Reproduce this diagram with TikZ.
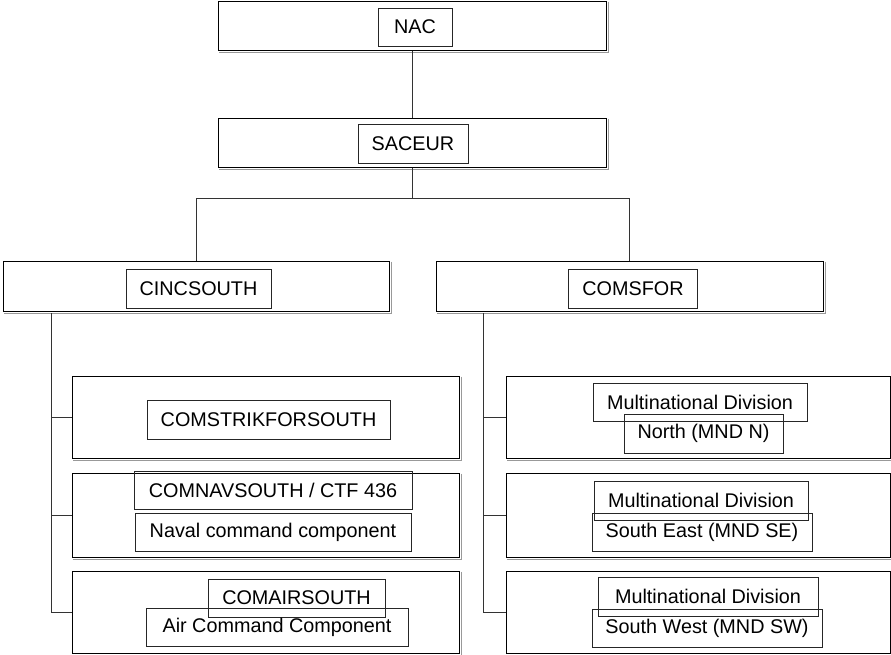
\documentclass[tikz,border=0pt]{standalone}
\usepackage{fontspec}
\setmainfont{Liberation Sans}
\begin{document}
\begin{tikzpicture}[x=1pt,y=-1pt,
  obox/.style={draw=black, line width=1pt, fill=white, rectangle, inner sep=0pt},
  shadeline/.style={draw=gray!80, line width=1.2pt},
  ibox/.style={draw=black!85, line width=0.9pt, rectangle, inner sep=0pt,
    minimum height=38pt, font=\fontsize{19.8}{22}\selectfont},
  conn/.style={draw=black!80, line width=0.9pt}]
\useasboundingbox (0,0) rectangle (891,654);
% outer boxes
\node[obox, minimum width=388pt, minimum height=49pt] (nac) at (412,25.5) {};
\node[obox, minimum width=388pt, minimum height=49pt] (saceur) at (412,142.5) {};
\node[obox, minimum width=386pt, minimum height=50pt] (cinc) at (196,286) {};
\node[obox, minimum width=387pt, minimum height=50pt] (comsfor) at (629.5,286) {};
\node[obox, minimum width=387pt, minimum height=82pt] (s1) at (265.5,417) {};
\node[obox, minimum width=387pt, minimum height=84pt] (s2) at (265.5,515) {};
\node[obox, minimum width=387pt, minimum height=82pt] (s3) at (265.5,612) {};
\node[obox, minimum width=384pt, minimum height=82pt] (r1) at (698,417) {};
\node[obox, minimum width=384pt, minimum height=84pt] (r2) at (698,515) {};
\node[obox, minimum width=384pt, minimum height=82pt] (r3) at (698,612) {};
% shadow lines on right and bottom edges
\foreach \n in {nac,saceur,cinc,comsfor,s1,s2,s3,r1,r2,r3}{
  \draw[shadeline] ([xshift=2pt,yshift=-1pt]\n.north east) -- ([xshift=2pt,yshift=-2pt]\n.south east)
    -- ([xshift=1pt,yshift=-2pt]\n.south west);
}
% inner text boxes
\node[ibox, minimum width=74pt] (nact) at (415,27) {NAC};
\node[ibox, minimum width=110pt, minimum height=39pt] (saceurt) at (413,143.5) {SACEUR};
\node[ibox, minimum width=145pt, minimum height=39pt] (cinct) at (198.5,288.5) {CINCSOUTH};
\node[ibox, minimum width=129pt, minimum height=39pt] (comsfort) at (633,288.5) {COMSFOR};
\node[ibox, minimum width=243pt, minimum height=39pt] (s1t) at (268.5,419.5) {COMSTRIKFORSOUTH};
\node[ibox, minimum width=278pt] (s2a) at (273,490) {COMNAVSOUTH / CTF 436};
\node[ibox, minimum width=276pt] (s2b) at (273,532) {Naval command component};
\node[ibox, minimum width=177pt] (s3a) at (296.5,598) {COMAIRSOUTH};
\node[ibox, minimum width=262pt] (s3b) at (277,627) {Air Command Component};
\node[ibox, minimum width=214pt] (r1a) at (700,402) {Multinational Division};
\node[ibox, minimum width=159pt, minimum height=39pt] (r1b) at (703.5,433.5) {North (MND N)};
\node[ibox, minimum width=214pt, minimum height=39pt] (r2a) at (701,500.5) {Multinational Division};
\node[ibox, minimum width=220pt] (r2b) at (702,532) {South East (MND SE)};
\node[ibox, minimum width=220pt, minimum height=39pt] (r3a) at (708,596.5) {Multinational Division};
\node[ibox, minimum width=230pt] (r3b) at (707,628) {South West (MND SW)};
% connectors
\coordinate (sp) at (412,198);
\coordinate (lb) at (51,313);
\coordinate (rb) at (483,313);
\draw[conn] (nac.south) -- (saceur.north);
\draw[conn] (saceur.south) -- (sp);
\draw[conn] (sp) -| (cinc.north);
\draw[conn] (sp) -| (comsfor.north);
\draw[conn] (lb) |- (s1.west);
\draw[conn] (lb) |- (s2.west);
\draw[conn] (lb) |- (s3.west);
\draw[conn] (rb) |- (r1.west);
\draw[conn] (rb) |- (r2.west);
\draw[conn] (rb) |- (r3.west);
\end{tikzpicture}
\end{document}
